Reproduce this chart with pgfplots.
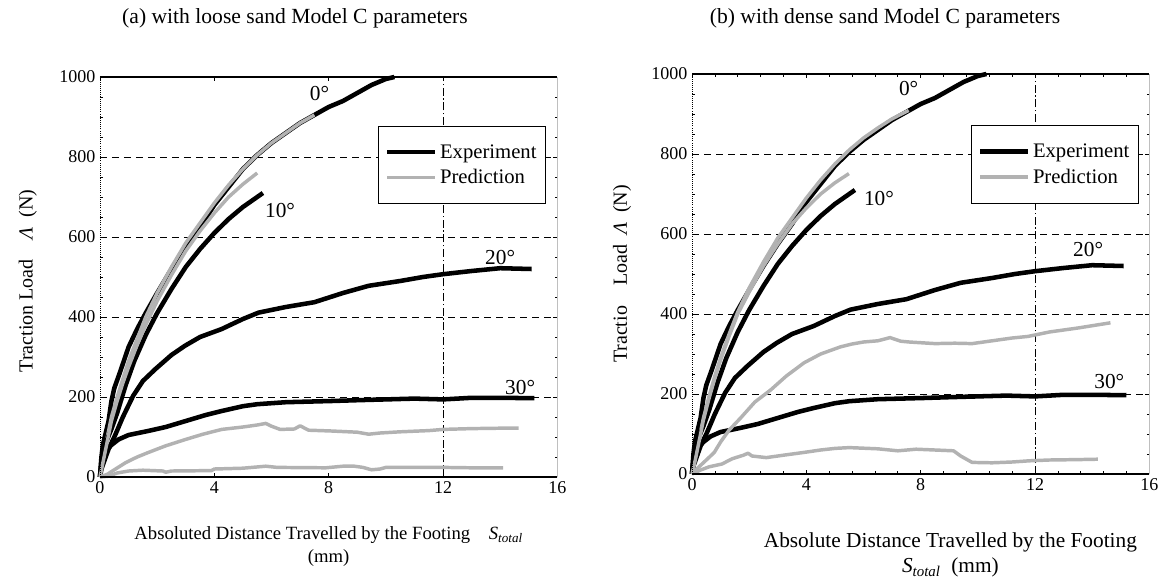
\documentclass[border=0pt]{standalone}
\usepackage{pgfplots}
\pgfplotsset{compat=1.18}
\usepackage{fontspec}
\setmainfont{Liberation Serif}

\tikzset{lab/.style={font=\fontsize{16}{18}\selectfont}}
\pgfplotsset{
  panel/.style={
    scale only axis, width=343pt, height=300pt,
    xmin=0, xmax=16, ymin=0, ymax=1000,
    xtick={0,4,8,12,16}, ytick={0,200,400,600,800,1000},
    minor y tick num=3,
    tick align=inside, major tick length=3pt, minor tick length=2pt,
    tick style={black, line width=0.5pt},
    ymajorgrids, grid style={black, line width=0.7pt, dash pattern=on 5pt off 4pt},
    axis line style={draw=none},
    /pgf/number format/assume math mode=true,
    /pgf/number format/1000 sep={},
    tick label style={font=\fontsize{13.5}{15}\selectfont},
    ylabel style={font=\fontsize{15}{17}\selectfont, anchor=center},
    legend style={draw=black, line width=0.8pt, font=\fontsize{15.5}{17}\selectfont,
      anchor=north east, inner xsep=5pt, inner ysep=11.5pt, row sep=3pt,
      cells={anchor=west}},
    legend image code/.code={\draw[#1] (0pt,0pt) -- (36pt,0pt);},
    clip=false,
  },
  exp/.style={black, line width=3.4pt, line join=round},
  pred/.style={gray!60, line width=2.6pt, line join=round},
}

\pgfplotstableread{
x y
0 0
0.05 50
0.1 80
0.2 110
0.3 140
0.4 190
0.5 222
0.7 262
1.0 325
1.3 370
1.6 410
2.0 460
2.5 520
3.0 575
3.5 625
4.0 680
4.5 725
5.0 770
5.5 805
6.0 835
6.5 860
7.0 885
7.5 905
8.0 925
8.5 940
9.0 960
9.5 980
10.0 995
10.3 1000
}\expzero

\pgfplotstableread{
x y
0 0
0.05 40
0.1 60
0.2 85
0.4 120
0.6 160
0.9 230
1.2 290
1.6 355
2.0 410
2.5 470
3.0 525
3.5 570
4.0 610
4.5 645
5.0 675
5.5 700
5.7 710
}\expten

\pgfplotstableread{
x y
0 0
0.05 20
0.13 36
0.3 70
0.52 103
0.8 150
1.16 203
1.5 240
1.94 270
2.5 305
2.97 328
3.5 350
4.26 370
5.0 395
5.55 411
6.5 425
7.5 437
8.5 460
9.4 478
10.5 490
11.3 500
12 507
13 515
14 522
15.1 520
}\exptwenty

\pgfplotstableread{
x y
0 0
0.06 36
0.15 55
0.26 69
0.4 80
0.65 94
1.0 105
1.68 115
2.3 125
3 140
3.7 155
4.26 165
5 177
5.5 182
6.5 187
8.1 190
9 192
10 194
11 196
12 194
13 198
14 198
15.2 197
}\expthirty

% loose sand predictions
\pgfplotstableread{
x y
0 0
0.1 40
0.2 80
0.4 150
0.6 200
0.8 245
1.0 290
1.3 345
1.6 400
2.0 460
2.5 525
3.0 585
3.5 635
4.0 685
4.5 730
5.0 770
5.5 805
6.0 835
6.5 860
7.0 885
7.5 905
}\lpzero

\pgfplotstableread{
x y
0 0
0.1 35
0.2 70
0.4 140
0.6 190
0.8 235
1.0 275
1.3 330
1.6 380
2.0 440
2.5 505
3.0 565
3.5 615
4.0 660
4.5 700
5.0 732
5.5 760
}\lpten

\pgfplotstableread{
x y
0 0
0.26 7
0.5 18
0.9 36
1.3 50
1.68 61
2.3 78
3 94
3.6 107
4.26 119
5 125
5.5 130
5.8 134
6.0 127
6.3 119
6.8 120
7.0 128
7.3 117
8.1 115
9 112
9.4 107
9.8 110
10.5 113
11.5 116
12 119
13 121
14 122
14.65 122
}\lptwenty

\pgfplotstableread{
x y
0 0
0.3 2
0.6 10
1 15
1.5 17
2.2 15
2.3 12
2.5 15
3.9 16
4 20
5 22
5.8 27
6.2 24
7.9 23
8.5 27
8.9 27
9.2 24
9.5 18
9.8 20
10 24
12 24
13 23
14.1 23
}\lpthirty

% dense sand predictions
\pgfplotstableread{
x y
0 0
0.1 30
0.2 70
0.4 140
0.6 195
0.8 245
1.0 290
1.3 350
1.6 405
2.0 465
2.5 530
3.0 590
3.5 640
4.0 690
4.5 735
5.0 775
5.5 810
6.0 840
6.5 865
7.0 888
7.58 909
}\dpzero

\pgfplotstableread{
x y
0 0
0.1 30
0.2 65
0.4 135
0.6 190
0.8 240
1.0 285
1.3 345
1.6 400
2.0 455
2.5 520
3.0 575
3.5 625
4.0 665
4.5 700
5.0 728
5.49 751
}\dpten

\pgfplotstableread{
x y
0 0
0.2 15
0.5 35
0.78 54
1.0 80
1.3 110
1.7 140
2.2 180
2.75 210
3.3 245
3.92 278
4.5 300
5.2 318
5.6 325
6.0 330
6.5 333
6.93 341
7.3 332
7.6 330
8.5 326
9.2 327
9.8 326
10.5 333
11.2 340
11.76 344
12.5 355
13.5 365
14.64 378
}\dptwenty

\pgfplotstableread{
x y
0 0
0.3 10
0.6 18
1.05 25
1.4 38
1.8 47
1.96 52
2.1 45
2.6 41
3.2 47
3.92 54
4.5 60
5.0 64
5.5 66
6.5 63
7.2 58
7.84 62
8.5 60
9.15 58
9.4 45
9.7 33
9.8 29
10.5 28
11.2 30
11.8 33
12.5 35
13.5 36
14.2 37
}\dpthirty

\begin{document}
\begin{tikzpicture}
\useasboundingbox (0,0) rectangle (876pt,-433.5pt);

\node[font=\fontsize{16.2}{19}\selectfont] at (221.25pt,-13.5pt) {(a) with loose sand Model C parameters};
\node[font=\fontsize{16.2}{19}\selectfont] at (663.75pt,-13.5pt) {(b) with dense sand Model C parameters};

% ---------------- left panel ----------------
\begin{axis}[panel, at={(75pt,-357.75pt)}, anchor=south west,
  ylabel={Traction Load\quad\textit{Λ}\enspace(N)},
  ylabel style={at={(axis description cs:-0.158,0.49)}},
  xlabel={Absoluted Distance Travelled by the Footing\quad\textit{S}\textsubscript{\textit{total}}\\(mm)},
  xlabel style={font=\fontsize{14}{17}\selectfont, at={(axis description cs:0.5,-0.112)}, anchor=north, align=center},
  legend style={at={(0.976,0.878)}},
]
\draw[black, line width=0.5pt, dash pattern=on 6pt off 2pt on 1pt off 2pt] (axis cs:12,0) -- (axis cs:12,1000);
\addplot[exp] table {\expzero};
\addlegendentry{Experiment}
\addplot[pred] table {\lpzero};
\addlegendentry{Prediction}
\addplot[exp, forget plot] table {\expten};
\addplot[exp, forget plot] table {\exptwenty};
\addplot[exp, forget plot] table {\expthirty};
\addplot[pred, forget plot] table {\lpten};
\addplot[pred, forget plot] table {\lptwenty};
\addplot[pred, forget plot] table {\lpthirty};
\draw[black, line width=1pt] (rel axis cs:0,1) -- (rel axis cs:1,1);
\draw[black, line width=1pt] (rel axis cs:0,0) -- (rel axis cs:1,0);
\draw[black, line width=0.6pt, densely dotted] (rel axis cs:0,0) -- (rel axis cs:0,1);
\draw[gray!50, line width=0.5pt] (rel axis cs:1,0) -- (rel axis cs:1,1);
\node[lab] at (axis cs:7.68,958) {0°};
\node[lab] at (axis cs:6.3,666) {10°};
\node[lab] at (axis cs:14,549) {20°};
\node[lab] at (axis cs:14.7,224) {30°};
\end{axis}

% ---------------- right panel ----------------
\begin{axis}[panel, at={(519pt,-355.5pt)}, anchor=south west,
  minor x tick num=4,
  ylabel={Tractio\quad Load\enspace\textit{Λ}\enspace(N)},
  ylabel style={at={(axis description cs:-0.153,0.5)}},
  xlabel={Absolute Distance Travelled by the Footing\\\textit{S}\textsubscript{\textit{total}}\enspace(mm)},
  xlabel style={font=\fontsize{16}{19}\selectfont, at={(axis description cs:0.565,-0.135)}, anchor=north, align=center},
  legend style={at={(0.978,0.872)}},
]
\draw[black, line width=0.5pt, dash pattern=on 6pt off 2pt on 1pt off 2pt] (axis cs:12,0) -- (axis cs:12,1000);
\addplot[exp] table {\expzero};
\addlegendentry{Experiment}
\addplot[pred] table {\dpzero};
\addlegendentry{Prediction}
\addplot[exp, forget plot] table {\expten};
\addplot[exp, forget plot] table {\exptwenty};
\addplot[exp, forget plot] table {\expthirty};
\addplot[pred, forget plot] table {\dpten};
\addplot[pred, forget plot] table {\dptwenty};
\addplot[pred, forget plot] table {\dpthirty};
\draw[black, line width=1pt] (rel axis cs:0,1) -- (rel axis cs:1,1);
\draw[black, line width=1pt] (rel axis cs:0,0) -- (rel axis cs:1,0);
\draw[black, line width=0.6pt, densely dotted] (rel axis cs:0,0) -- (rel axis cs:0,1);
\draw[gray!50, line width=0.5pt] (rel axis cs:1,0) -- (rel axis cs:1,1);
\node[lab] at (axis cs:7.58,963) {0°};
\node[lab] at (axis cs:6.54,689) {10°};
\node[lab] at (axis cs:13.86,560) {20°};
\node[lab] at (axis cs:14.6,232) {30°};
\end{axis}
\end{tikzpicture}
\end{document}
